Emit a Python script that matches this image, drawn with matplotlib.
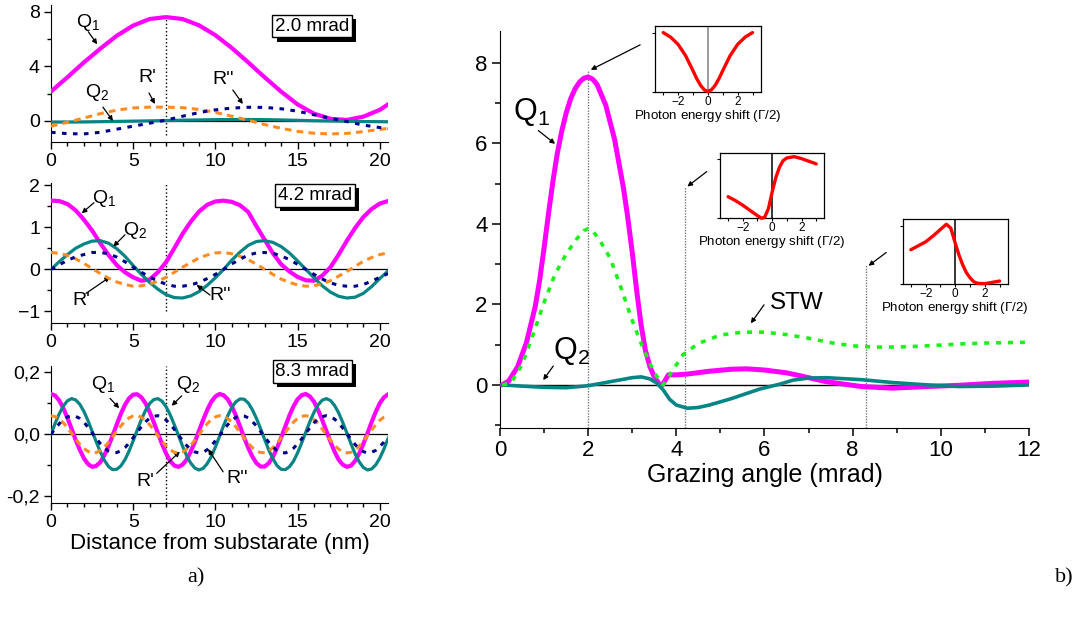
import numpy as np
import matplotlib
matplotlib.use('Agg')
import matplotlib.pyplot as plt
import matplotlib.patheffects as pe
from matplotlib.ticker import MultipleLocator

plt.rcParams['font.family'] = ['Liberation Sans', 'DejaVu Sans']
plt.rcParams['mathtext.fontset'] = 'custom'
plt.rcParams['mathtext.rm'] = 'Liberation Sans'
plt.rcParams['mathtext.it'] = 'Liberation Sans:italic'
plt.rcParams['mathtext.bf'] = 'Liberation Sans:bold'

# ---- panel a), 2.0 mrad (distance in nm)
dist1 = [0, 1, 2, 3, 4, 5, 6, 7, 8, 9, 10, 11, 12, 13, 14, 15, 16, 17, 18, 19, 20, 20.5]
q1_20 = [2.15, 3.2, 4.29, 5.3, 6.25, 7.0, 7.48, 7.62, 7.48, 7.02, 6.29, 5.35, 4.29, 3.19,
         2.14, 1.2, 0.52, 0.14, 0.06, 0.3, 0.8, 1.2]
q2_20 = [-0.10, -0.10, -0.09, -0.07, -0.05, -0.03, -0.01, 0.01, 0.04, 0.06, 0.08, 0.09,
         0.09, 0.08, 0.06, 0.03, 0.00, -0.02, -0.04, -0.06, -0.07, -0.08]
r1_20 = [-0.40, -0.12, 0.20, 0.52, 0.78, 0.94, 1.0, 1.0, 0.96, 0.83, 0.62, 0.33, 0.03,
         -0.28, -0.56, -0.78, -0.92, -0.97, -0.93, -0.80, -0.64, -0.56]
r2_20 = [-0.85, -0.95, -0.97, -0.85, -0.62, -0.40, -0.18, 0.05, 0.33, 0.60, 0.80, 0.93,
         0.99, 0.98, 0.88, 0.70, 0.44, 0.18, -0.06, -0.32, -0.50, -0.57]

# ---- 4.2 mrad, sampled every 0.5 nm
dist2 = np.arange(0, 20.51, 0.5)
q1_42 = [1.63, 1.62, 1.55, 1.40, 1.18, 0.92, 0.62, 0.34, 0.10, -0.07, -0.19, -0.27, -0.24,
         -0.07, 0.17, 0.50, 0.84, 1.13, 1.37, 1.53, 1.61, 1.63,
         1.60, 1.52, 1.36, 1.02, 0.70, 0.38, 0.12, -0.05, -0.18, -0.26, -0.27, -0.15, 0.05,
         0.35, 0.68, 0.98, 1.24, 1.43, 1.56, 1.62]
q2_42 = [0, 0.18, 0.35, 0.50, 0.60, 0.67, 0.68, 0.62, 0.49, 0.31, 0.09, -0.12, -0.31, -0.47,
         -0.60, -0.67, -0.68, -0.63, -0.53, -0.38, -0.20, 0.00,
         0.22, 0.41, 0.57, 0.66, 0.68, 0.64, 0.54, 0.39, 0.20, 0.00, -0.20, -0.39, -0.54,
         -0.64, -0.68, -0.66, -0.57, -0.41, -0.22, -0.04]
r1_42 = [0.40, 0.38, 0.33, 0.25, 0.14, 0.02, -0.10, -0.21, -0.30, -0.36, -0.40, -0.39,
         -0.35, -0.28, -0.19, -0.07, 0.05, 0.16, 0.27, 0.34, 0.39, 0.40,
         0.37, 0.31, 0.23, 0.12, 0.00, -0.12, -0.23, -0.31, -0.37, -0.40, -0.39, -0.34,
         -0.27, -0.16, -0.05, 0.07, 0.19, 0.28, 0.35, 0.39]
r2_42 = [0, 0.11, 0.21, 0.30, 0.35, 0.40, 0.40, 0.37, 0.29, 0.18, 0.05, -0.07, -0.18, -0.28,
         -0.35, -0.40, -0.40, -0.37, -0.31, -0.22, -0.12, 0.00,
         0.13, 0.24, 0.34, 0.39, 0.40, 0.38, 0.32, 0.23, 0.12, 0.00, -0.12, -0.23, -0.32,
         -0.38, -0.40, -0.40, -0.36, -0.28, -0.19, -0.10]

# ---- 8.3 mrad, sampled every 0.25 nm
dist3 = np.arange(0, 20.51, 0.25)
q1_83 = [0.130, 0.125, 0.109, 0.084, 0.053, 0.018, -0.018, -0.050, -0.077, -0.096,
         -0.105, -0.102, -0.090, -0.067, -0.038, -0.004, 0.032, 0.066, 0.095, 0.116,
         0.128, 0.129, 0.119, 0.100, 0.072, 0.039, 0.004, -0.031, -0.062, -0.086,
         -0.101, -0.105, -0.098, -0.082, -0.056, -0.025, 0.011, 0.046, 0.078, 0.105,
         0.122, 0.130, 0.126, 0.113, 0.090, 0.060, 0.025, -0.011, -0.044, -0.072,
         -0.093, -0.104, -0.104, -0.093, -0.073, -0.044, -0.011, 0.025, 0.060, 0.090,
         0.113, 0.126, 0.130, 0.122, 0.105, 0.078, 0.046, 0.011, -0.024, -0.056,
         -0.082, -0.098, -0.105, -0.101, -0.086, -0.062, -0.031, 0.003, 0.039, 0.072,
         0.100, 0.119, 0.129]
q2_83 = [0, 0.035, 0.066, 0.091, 0.108, 0.115, 0.111, 0.097, 0.074, 0.044,
         0.010, -0.024, -0.057, -0.084, -0.104, -0.114, -0.113, -0.102, -0.082, -0.054,
         -0.021, 0.014, 0.048, 0.077, 0.099, 0.112, 0.115, 0.107, 0.089, 0.063,
         0.031, -0.003, -0.038, -0.069, -0.093, -0.109, -0.115, -0.110, -0.095, -0.072,
         -0.041, -0.007, 0.028, 0.060, 0.087, 0.105, 0.114, 0.113, 0.101, 0.079,
         0.051, 0.018, -0.017, -0.051, -0.079, -0.101, -0.113, -0.114, -0.105, -0.087,
         -0.060, -0.028, 0.007, 0.041, 0.071, 0.095, 0.110, 0.115, 0.109, 0.093,
         0.069, 0.038, 0.004, -0.031, -0.063, -0.089, -0.107, -0.115, -0.112, -0.099,
         -0.077, -0.048, -0.014]
r1_83 = [0.060, 0.057, 0.049, 0.037, 0.021, 0.003, -0.015, -0.032, -0.046, -0.055,
         -0.060, -0.059, -0.052, -0.041, -0.026, -0.008, 0.010, 0.027, 0.042, 0.053,
         0.059, 0.060, 0.055, 0.045, 0.031, 0.014, -0.005, -0.022, -0.038, -0.050,
         -0.058, -0.060, -0.057, -0.048, -0.035, -0.019, -0.001, 0.017, 0.034, 0.047,
         0.056, 0.060, 0.058, 0.051, 0.039, 0.024, 0.006, -0.012, -0.029, -0.043,
         -0.054, -0.059, -0.059, -0.054, -0.043, -0.029, -0.012, 0.006, 0.024, 0.039,
         0.051, 0.058, 0.060, 0.056, 0.047, 0.034, 0.017, -0.001, -0.019, -0.035,
         -0.048, -0.057, -0.060, -0.058, -0.050, -0.038, -0.022, -0.005, 0.014, 0.030,
         0.045, 0.055, 0.060]
r2_83 = [0, 0.018, 0.034, 0.048, 0.056, 0.060, 0.058, 0.051, 0.039, 0.023,
         0.005, -0.013, -0.030, -0.044, -0.054, -0.059, -0.059, -0.053, -0.043, -0.028,
         -0.011, 0.007, 0.025, 0.040, 0.052, 0.058, 0.060, 0.056, 0.046, 0.033,
         0.016, -0.002, -0.020, -0.036, -0.049, -0.057, -0.060, -0.058, -0.050, -0.037,
         -0.021, -0.004, 0.014, 0.031, 0.045, 0.055, 0.060, 0.059, 0.053, 0.041,
         0.027, 0.009, -0.009, -0.026, -0.041, -0.053, -0.059, -0.060, -0.055, -0.045,
         -0.031, -0.015, 0.004, 0.021, 0.037, 0.050, 0.057, 0.060, 0.057, 0.049,
         0.036, 0.020, 0.002, -0.016, -0.033, -0.046, -0.056, -0.060, -0.058, -0.052,
         -0.040, -0.025, -0.007]

# ---- panel b), versus grazing angle (mrad)
ang_q1 = [0.05, 0.2, 0.4, 0.6, 0.8, 0.9, 1.0, 1.1, 1.2, 1.3, 1.4, 1.5, 1.6, 1.7, 1.8, 1.9,
          2.0, 2.1, 2.2, 2.4, 2.6, 2.8, 2.9, 3.0, 3.1, 3.2, 3.3, 3.4, 3.5, 3.6, 3.67, 3.75,
          3.82, 4.0, 4.25, 4.75, 5.25, 5.6, 6.0, 6.5, 6.8, 7.4, 8.2, 8.9, 9.7, 10.4, 11.2,
          12.0]
q1_ang = [0.0, 0.1, 0.45, 1.05, 1.95, 2.6, 3.4, 4.25, 5.05, 5.75, 6.3, 6.75, 7.1, 7.35,
          7.52, 7.62, 7.65, 7.6, 7.47, 6.95, 6.1, 4.9, 4.15, 3.3, 2.35, 1.5, 0.85, 0.46,
          0.2, 0.04, -0.02, 0.12, 0.25, 0.25, 0.27, 0.34, 0.39, 0.40, 0.37, 0.30, 0.23,
          0.08, -0.04, -0.08, -0.04, -0.01, 0.04, 0.07]
ang_stw = [0.05, 0.25, 0.5, 0.75, 1.0, 1.25, 1.5, 1.75, 1.9, 2.0, 2.1, 2.25, 2.5, 2.75,
           3.0, 3.25, 3.5, 3.7, 3.9, 4.15, 4.5, 5.0, 5.5, 6.0, 6.5, 7.0, 7.5, 8.0, 8.5, 9.0,
           9.5, 10.0, 10.5, 11.0, 11.5, 12.0]
stw_ang = [0.0, 0.05, 0.5, 1.25, 2.05, 2.75, 3.25, 3.64, 3.83, 3.88, 3.83, 3.62, 3.15, 2.4,
           1.6, 0.9, 0.3, 0.0, 0.33, 0.75, 1.03, 1.24, 1.31, 1.31, 1.25, 1.16, 1.05, 0.97,
           0.94, 0.94, 0.96, 0.99, 1.02, 1.04, 1.05, 1.06]
ang_q2 = [0.05, 0.5, 1.0, 1.5, 2.0, 2.5, 3.0, 3.2, 3.4, 3.55, 3.7, 3.85, 4.0, 4.25, 4.5,
          4.75, 5.25, 5.9, 6.35, 6.65, 7.0, 7.4, 8.2, 8.9, 9.7, 10.4, 11.2, 12.0]
q2_ang = [0.0, -0.03, -0.06, -0.07, -0.02, 0.08, 0.18, 0.2, 0.15, 0.05, -0.12, -0.36, -0.5,
          -0.58, -0.56, -0.5, -0.34, -0.1, 0.02, 0.12, 0.17, 0.18, 0.13, 0.06, 0.0, -0.04,
          -0.03, 0.0]
marked_angles = [2.0, 4.2, 8.3]
marker_tops = [7.83, 4.93, 2.98]

# insets: spectra vs photon energy shift (Gamma/2)
shift1 = [-3, -2.5, -2, -1.5, -1, -0.75, -0.5, -0.25, 0, 0.25, 0.5, 0.75, 1, 1.5, 2, 2.5, 3]
spec1 = [0.90, 0.83, 0.72, 0.55, 0.32, 0.2, 0.10, 0.03, 0.0, 0.03, 0.10, 0.2, 0.32, 0.55,
         0.72, 0.83, 0.90]
shift2 = [-3, -2.5, -2, -1.5, -1, -0.7, -0.5, -0.25, 0, 0.25, 0.5, 0.75, 1, 1.5, 2, 2.5, 3]
spec2 = [0.33, 0.27, 0.20, 0.12, 0.04, 0.0, 0.02, 0.15, 0.40, 0.62, 0.78, 0.88, 0.92, 0.94,
         0.91, 0.87, 0.83]
shift3 = [-3, -2.5, -2, -1.5, -1, -0.6, -0.3, 0, 0.25, 0.5, 0.75, 1, 1.25, 1.5, 2, 2.5, 3]
spec3 = [0.53, 0.59, 0.65, 0.74, 0.84, 0.92, 0.86, 0.63, 0.45, 0.30, 0.18, 0.10, 0.04,
         0.015, 0.01, 0.03, 0.05]

MAGENTA = '#ff00ff'
TEAL = '#078585'
ORANGE = '#ff8c22'
NAVY = '#00008e'
GREEN = '#1ef01e'

fig = plt.figure(figsize=(10.85, 6.19), dpi=100)


def arrow(ax, start, tip):
    ax.annotate('', xy=tip, xytext=start,
                arrowprops=dict(arrowstyle='-|>', color='k', lw=0.9, mutation_scale=7,
                                shrinkA=0, shrinkB=0))


def mrad_box(ax, x, y, label):
    t = ax.text(x, y, label, ha='center', va='center', fontsize=13.5,
                bbox=dict(boxstyle='square,pad=0.15', fc='white', ec='k', lw=1))
    t.get_bbox_patch().set_path_effects([
        pe.SimplePatchShadow(offset=(3, -3), shadow_rgbFace='k', alpha=1), pe.Normal()])


def left_style(ax):
    for s in ['top', 'right']:
        ax.spines[s].set_visible(False)
    ax.set_xlim(0, 20.5)
    ax.xaxis.set_major_locator(MultipleLocator(5))
    ax.xaxis.set_minor_locator(MultipleLocator(1))
    ax.tick_params(which='major', length=5, width=1, labelsize=14, pad=3)
    ax.tick_params(which='minor', length=3, width=1)
    ax.axhline(0, color='k', lw=0.9, zorder=1)


def left_curves(ax, x, q1, q2, r1, r2):
    ax.plot(x, q1, color=MAGENTA, lw=3.0, solid_capstyle='round',
            solid_joinstyle='round', zorder=3)
    ax.plot(x, q2, color=TEAL, lw=2.3, solid_capstyle='round',
            solid_joinstyle='round', zorder=3)
    ax.plot(x, r1, color=ORANGE, lw=2.2, dashes=(2.2, 1.7), zorder=4)
    ax.plot(x, r2, color=NAVY, lw=2.2, dashes=(1.5, 2.1), zorder=4)


# ---- a) top: 2.0 mrad
ax1 = fig.add_axes([0.047, 0.7709, 0.3106, 0.2208])
left_style(ax1)
left_curves(ax1, dist1, q1_20, q2_20, r1_20, r2_20)
ax1.set_ylim(-1.55, 8.5)
ax1.set_yticks([0, 4, 8])
ax1.yaxis.set_minor_locator(MultipleLocator(2))
ax1.vlines(7, -1.05, 7.7, colors='k', linestyles=':', lw=1, zorder=2)
ax1.text(2.25, 7.26, 'Q$_1$', ha='center', va='center', fontsize=14)
arrow(ax1, (2.27, 6.54), (2.81, 5.62))
ax1.text(2.8, 2.1, 'Q$_2$', ha='center', va='center', fontsize=14)
arrow(ax1, (3.16, 1.0), (3.77, -0.02))
ax1.text(5.84, 3.2, "R'", ha='center', va='center', fontsize=14)
arrow(ax1, (5.96, 2.04), (6.32, 1.23))
ax1.text(10.5, 3.0, "R''", ha='center', va='center', fontsize=14)
arrow(ax1, (11.06, 2.26), (11.67, 1.23))
mrad_box(ax1, 15.9, 6.96, '2.0 mrad')

# ---- a) middle: 4.2 mrad
ax2 = fig.add_axes([0.047, 0.4777, 0.3106, 0.2268])
left_style(ax2)
left_curves(ax2, dist2, q1_42, q2_42, r1_42, r2_42)
ax2.set_ylim(-1.28, 2.05)
ax2.set_yticks([-1, 0, 1, 2])
ax2.yaxis.set_minor_locator(MultipleLocator(0.5))
ax2.vlines(7, -1.0, 2.09, colors='k', linestyles=':', lw=1, zorder=2)
ax2.text(3.25, 1.69, 'Q$_1$', ha='center', va='center', fontsize=14)
arrow(ax2, (2.61, 1.58), (1.87, 1.33))
ax2.text(5.1, 0.93, 'Q$_2$', ha='center', va='center', fontsize=14)
arrow(ax2, (4.5, 0.82), (3.79, 0.54))
ax2.text(1.82, -0.73, "R'", ha='center', va='center', fontsize=14)
arrow(ax2, (2.13, -0.57), (3.59, -0.18))
ax2.text(10.27, -0.61, "R''", ha='center', va='center', fontsize=14)
arrow(ax2, (9.67, -0.61), (8.86, -0.37))
mrad_box(ax2, 16.08, 1.75, '4.2 mrad')

# ---- a) bottom: 8.3 mrad
ax3 = fig.add_axes([0.047, 0.1882, 0.3106, 0.2204])
left_style(ax3)
left_curves(ax3, dist3, q1_83, q2_83, r1_83, r2_83)
ax3.set_ylim(-0.22, 0.22)
ax3.set_yticks([-0.2, 0.0, 0.2])
ax3.set_yticklabels(['-0,2', '0,0', '0,2'])
ax3.yaxis.set_minor_locator(MultipleLocator(0.1))
ax3.vlines(7, -0.22, 0.22, colors='k', linestyles=':', lw=1, zorder=2)
ax3.text(3.16, 0.159, 'Q$_1$', ha='center', va='center', fontsize=14)
arrow(ax3, (3.59, 0.116), (4.15, 0.084))
ax3.text(8.33, 0.159, 'Q$_2$', ha='center', va='center', fontsize=14)
arrow(ax3, (7.95, 0.124), (7.34, 0.092))
ax3.text(5.71, -0.151, "R'", ha='center', va='center', fontsize=14)
arrow(ax3, (6.43, -0.126), (7.84, -0.056))
ax3.text(11.3, -0.144, "R''", ha='center', va='center', fontsize=14)
arrow(ax3, (10.47, -0.121), (9.56, -0.048))
mrad_box(ax3, 15.9, 0.203, '8.3 mrad')
ax3.set_xlabel('Distance from substarate (nm)', fontsize=16, labelpad=2)

# ---- b) main panel
axb = fig.add_axes([0.4608, 0.3086, 0.4876, 0.6417])
for s in ['top', 'right']:
    axb.spines[s].set_visible(False)
axb.set_xlim(0, 12)
axb.set_ylim(-1.07, 8.8)
axb.xaxis.set_major_locator(MultipleLocator(2))
axb.xaxis.set_minor_locator(MultipleLocator(1))
axb.yaxis.set_minor_locator(MultipleLocator(1))
axb.set_yticks([0, 2, 4, 6, 8])
axb.tick_params(which='major', length=6, width=1.1, labelsize=16, pad=3)
axb.tick_params(which='minor', length=3.5, width=1.1)
axb.axhline(0, color='k', lw=1, zorder=1)
axb.vlines(marked_angles, -1.07, marker_tops, colors='#777777', linestyles=(0, (1, 1)),
           lw=1, zorder=1)
axb.plot(ang_q1, q1_ang, color=MAGENTA, lw=3.6, solid_capstyle='round',
         solid_joinstyle='round', zorder=3)
axb.plot(ang_q2, q2_ang, color=TEAL, lw=2.6, solid_capstyle='round',
         solid_joinstyle='round', zorder=3)
axb.plot(ang_stw, stw_ang, color=GREEN, lw=2.6, dashes=(1.4, 1.9), zorder=4)
axb.set_xlabel('Grazing angle (mrad)', fontsize=18, labelpad=1)

axb.text(0.72, 6.78, 'Q$_1$', ha='center', va='center', fontsize=22)
arrow(axb, (0.87, 6.32), (1.25, 5.99))
axb.text(1.62, 0.84, 'Q$_2$', ha='center', va='center', fontsize=22)
arrow(axb, (1.21, 0.47), (0.98, 0.12))
axb.text(6.74, 2.04, 'STW', ha='center', va='center', fontsize=17.5)
arrow(axb, (5.99, 1.99), (5.69, 1.53))
arrow(axb, (3.18, 8.45), (2.06, 7.83))
arrow(axb, (4.69, 5.3), (4.25, 4.93))
arrow(axb, (8.76, 3.29), (8.36, 2.96))

# ---- insets
inset_rects = [[0.6037, 0.8519, 0.0974, 0.1061],
               [0.6636, 0.6473, 0.0961, 0.1060],
               [0.8320, 0.5407, 0.0968, 0.1055]]
inset_data = [(shift1, spec1, '#808080'), (shift2, spec2, 'k'), (shift3, spec3, 'k')]
for rect, (sx, sy, zc) in zip(inset_rects, inset_data):
    ai = fig.add_axes(rect)
    ai.plot(sx, sy, color='#ff0000', lw=2.4, solid_capstyle='round',
            solid_joinstyle='round', clip_on=False, zorder=3)
    ai.axvline(0, color=zc, lw=1.1, zorder=2)
    ai.set_xlim(-3.55, 3.55)
    ai.set_ylim(0, 1.0)
    ai.set_xticks([-2, 0, 2])
    ai.xaxis.set_minor_locator(MultipleLocator(1))
    ai.set_yticks([0, 0.9])
    ai.set_yticklabels([])
    ai.tick_params(which='both', length=2, width=0.8, labelsize=8.5, pad=1)
    for s in ai.spines.values():
        s.set_linewidth(0.9)
    ai.set_xlabel('Photon energy shift ($\\Gamma$/2)', fontsize=9.6, labelpad=0)

fig.text(0.1806, 0.0662, 'a)', family='Liberation Serif', fontsize=16, ha='center',
         va='center')
fig.text(0.9806, 0.0662, 'b)', family='Liberation Serif', fontsize=16, ha='center',
         va='center')

fig.savefig('out.png', dpi=100)
